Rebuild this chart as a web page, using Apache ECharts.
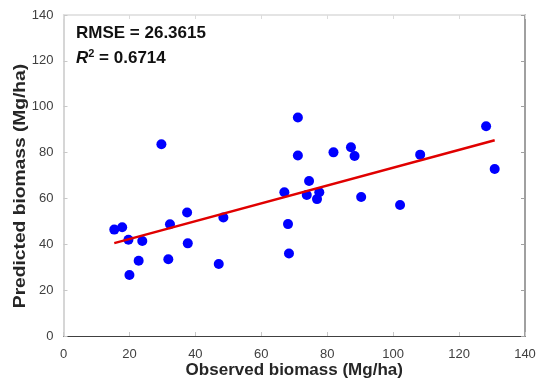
<!DOCTYPE html>
<html>
<head>
<meta charset="utf-8">
<script src="https://cdn.jsdelivr.net/npm/echarts@6/dist/echarts.min.js"></script>
<style>html,body{margin:0;padding:0;background:#fff}#c{width:540px;height:385px}</style>
</head>
<body>
<div id="c"></div>
<script>
var observed = [15.4, 17.8, 19.7, 23.9, 20.0, 22.8, 29.7, 32.3, 31.8, 37.5, 37.7, 47.1, 48.5, 67.0, 68.1, 68.4, 71.1, 71.1, 74.5, 73.8, 77.6, 76.9, 81.9, 87.2, 88.3, 90.3, 102.1, 108.2, 128.2, 130.8];
var predicted = [46.4, 47.4, 42.0, 41.4, 26.6, 32.8, 83.6, 48.7, 33.5, 53.9, 40.4, 31.4, 51.7, 62.7, 48.8, 36.0, 95.3, 78.7, 67.6, 61.5, 62.7, 59.7, 80.1, 82.3, 78.5, 60.6, 57.1, 79.1, 91.5, 72.8];
var fitX = [15.4, 130.8];
var fitY = [40.5, 85.4];
var xTicks = [0, 20, 40, 60, 80, 100, 120, 140];
var yTicks = [0, 20, 40, 60, 80, 100, 120, 140];
var xTitle = 'Observed biomass (Mg/ha)';
var yTitle = 'Predicted biomass (Mg/ha)';
var rmseText = 'RMSE = 26.3615';
var r2Value = '0.6714';

var pts = observed.map(function(x, i){ return [x, predicted[i]]; });
var fit = fitX.map(function(x, i){ return [x, fitY[i]]; });
var font = '"Liberation Sans", Arial, sans-serif';

var chart = echarts.init(document.getElementById('c'), null, {renderer: 'canvas'});
chart.setOption({
  animation: false,
  grid: {left: 63.5, right: 15, top: 15, bottom: 49, containLabel: false, outerBoundsMode: 'none'},
  xAxis: [{
    type: 'value', min: 0, max: 140, interval: 20,
    name: xTitle, nameLocation: 'middle', nameGap: 26, nameMoveOverlap: false,
    nameTextStyle: {fontFamily: font, fontSize: 17, fontWeight: 'bold', color: '#262626'},
    axisLine: {show: true, lineStyle: {color: '#404040', width: 1}},
    axisTick: {show: true, inside: true, length: 4, lineStyle: {color: '#c8c8c8'}},
    axisLabel: {fontFamily: font, fontSize: 13, color: '#404040', margin: 12,
      formatter: function(v){ return xTicks.indexOf(v) >= 0 ? String(v) : ''; }},
    splitLine: {show: false}
  }, {
    type: 'value', min: 0, max: 140, interval: 20, position: 'top',
    axisLine: {show: true, onZero: false, lineStyle: {color: '#dcdcdc', width: 1.5}},
    axisTick: {show: true, inside: true, length: 4, lineStyle: {color: '#dcdcdc'}},
    axisLabel: {show: false}, splitLine: {show: false}
  }],
  yAxis: [{
    type: 'value', min: 0, max: 140, interval: 20,
    axisLine: {show: true, lineStyle: {color: '#c8c8c8', width: 1.5}},
    axisTick: {show: true, inside: true, length: 4, lineStyle: {color: '#c8c8c8'}},
    axisLabel: {fontFamily: font, fontSize: 13, color: '#404040', margin: 10,
      formatter: function(v){ return yTicks.indexOf(v) >= 0 ? String(v) : ''; }},
    splitLine: {show: false}
  }, {
    type: 'value', min: 0, max: 140, interval: 20, position: 'right',
    axisLine: {show: true, onZero: false, lineStyle: {color: '#a0a0a0', width: 2}},
    axisTick: {show: true, inside: true, length: 4, lineStyle: {color: '#a0a0a0'}},
    axisLabel: {show: false}, splitLine: {show: false}
  }],
  series: [{
    type: 'scatter', data: pts, symbol: 'circle', symbolSize: 10,
    itemStyle: {color: '#0000ff', opacity: 1}, z: 3
  }, {
    type: 'line', data: fit, symbol: 'none',
    lineStyle: {color: '#e00000', width: 2.5}, z: 4
  }],
  graphic: [{
    type: 'text', left: 76, top: 25,
    style: {text: rmseText, fontFamily: font, fontSize: 17, fontWeight: 'bold', fill: '#111'}
  }, {
    type: 'text', left: 76, top: 48,
    style: {
      text: '{i|R}{s|2}{n| = ' + r2Value + '}',
      rich: {
        i: {fontFamily: font, fontSize: 17, fontWeight: 'bold', fontStyle: 'italic', fill: '#111'},
        s: {fontFamily: font, fontSize: 11, fontWeight: 'bold', fill: '#111', verticalAlign: 'top', padding: [0, 0, 9, 0]},
        n: {fontFamily: font, fontSize: 17, fontWeight: 'bold', fill: '#111'}
      }
    }
  }, {
    type: 'text', x: 21, y: 186, rotation: Math.PI / 2, scaleX: 1.2,
    style: {text: yTitle, fontFamily: font, fontSize: 16, fontWeight: 'bold', fill: '#262626',
      align: 'center', verticalAlign: 'middle'}
  }]
});
</script>
</body>
</html>
